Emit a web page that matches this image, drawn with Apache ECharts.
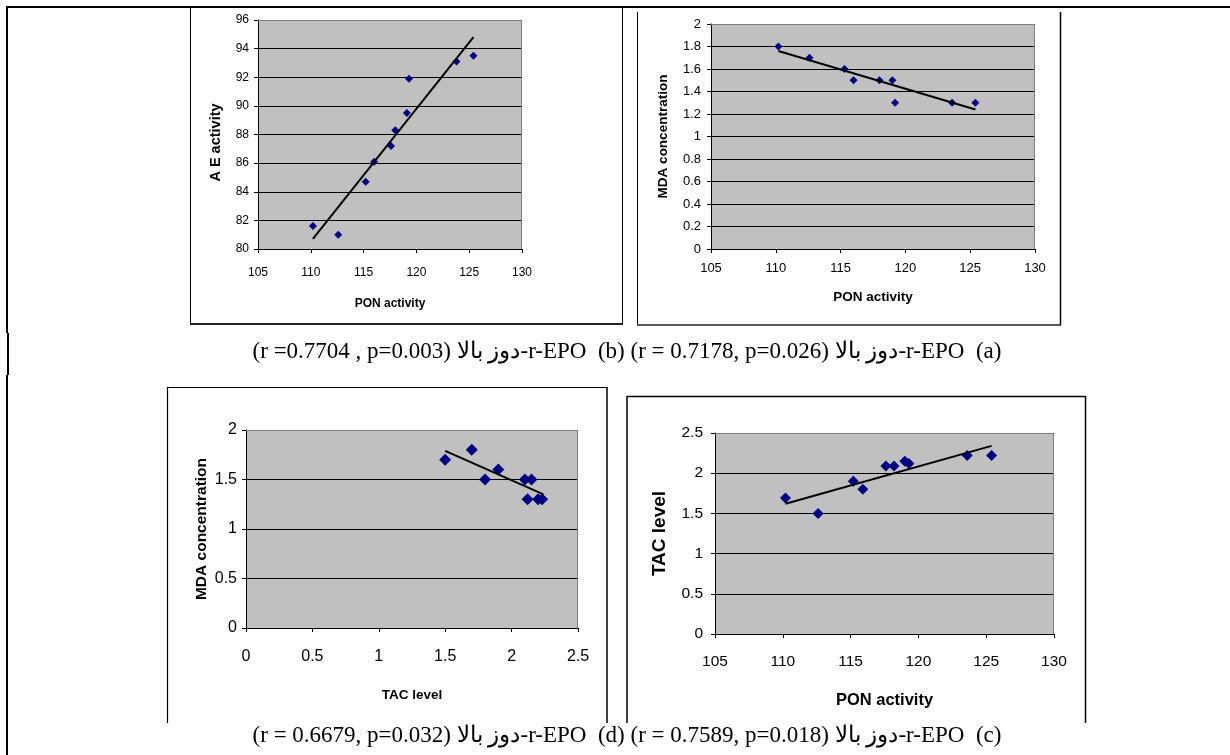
<!DOCTYPE html>
<html><head><meta charset="utf-8">
<script src="https://cdn.jsdelivr.net/npm/echarts@6/dist/echarts.min.js"></script>
<style>html,body{margin:0;padding:0;background:#fff}#c{width:1230px;height:755px}</style>
</head><body><div id="c"></div>
<script>
// ---- data ----
// chart (b): AE activity vs PON activity
const ponB = [110.2, 112.6, 115.2, 116.0, 117.6, 118.0, 119.1, 119.3, 123.8, 125.4];
const aeB  = [81.6, 81.0, 84.7, 86.1, 87.2, 88.3, 89.5, 91.9, 93.1, 93.5];
const trendBx = [110.2, 125.4];
const trendBy = [80.7, 94.8];
// chart (a): MDA concentration vs PON activity
const ponA = [110.2, 112.6, 115.3, 116.0, 118.0, 119.0, 119.2, 123.6, 125.4];
const mdaA = [1.8, 1.7, 1.6, 1.5, 1.5, 1.5, 1.3, 1.3, 1.3];
const trendAx = [110.2, 125.4];
const trendAy = [1.76, 1.24];
// chart (d): MDA concentration vs TAC level
const tacD = [1.5, 1.7, 1.8, 1.9, 2.1, 2.15, 2.12, 2.2, 2.23];
const mdaD = [1.7, 1.8, 1.5, 1.6, 1.5, 1.5, 1.3, 1.3, 1.3];
const trendDx = [1.5, 2.24];
const trendDy = [1.79, 1.35];
// chart (c): TAC level vs PON activity
const ponC = [110.2, 112.6, 115.2, 115.9, 117.6, 118.2, 119.0, 119.3, 123.6, 125.4];
const tacC = [1.69, 1.5, 1.9, 1.8, 2.09, 2.09, 2.15, 2.12, 2.22, 2.22];
const trendCx = [110.2, 125.4];
const trendCy = [1.62, 2.34];

const caption1 = "(r =0.7704 , p=0.003) دوز بالا-r-EPO  (b) (r = 0.7178, p=0.026) دوز بالا-r-EPO  (a)";
const caption2 = "(r = 0.6679, p=0.032) دوز بالا-r-EPO  (d) (r = 0.7589, p=0.018) دوز بالا-r-EPO  (c)";

const zip = (a, b) => a.map((v, i) => [v, b[i]]);

// ---- layout ----
const grids = [
  {left: 258, top: 20, width: 264, height: 229},
  {left: 711, top: 24, width: 324, height: 225},
  {left: 246, top: 430, width: 332, height: 198},
  {left: 715, top: 433, width: 339, height: 201}
];
const SANS = '"Liberation Sans", Arial, sans-serif';
const NARROW = '"Liberation Sans Narrow", "Arial Narrow", "Liberation Sans", sans-serif';

function xAx(i, min, max, interval, name, lblSize, lblMargin, nameSize, nameGap, fam) {
  return {
    type: 'value', gridIndex: i, min, max, interval,
    name, nameLocation: 'middle', nameGap,
    nameTextStyle: {fontFamily: SANS, fontWeight: 'bold', fontSize: nameSize, color: '#000'},
    axisLine: {show: true, onZero: false, lineStyle: {color: '#000', width: 1}},
    axisTick: {show: true, inside: false, length: 4, lineStyle: {color: '#000'}},
    axisLabel: {fontFamily: fam || SANS, fontSize: lblSize, color: '#000', margin: lblMargin},
    splitLine: {show: false}
  };
}
function yAx(i, min, max, interval, name, lblSize, lblMargin, nameSize, nameGap, fam, namePad) {
  return {
    type: 'value', gridIndex: i, min, max, interval,
    name, nameLocation: 'middle', nameGap,
    nameTextStyle: {fontFamily: SANS, fontWeight: 'bold', fontSize: nameSize, color: '#000', padding: namePad || 0},
    axisLine: {show: true, onZero: false, lineStyle: {color: '#000', width: 1}},
    axisTick: {show: true, inside: false, length: 4, lineStyle: {color: '#000'}},
    axisLabel: {fontFamily: fam || SANS, fontSize: lblSize, color: '#000', margin: lblMargin},
    splitLine: {show: true, lineStyle: {color: '#000', width: 1}}
  };
}

function scatter(i, data, size) {
  return {type: 'scatter', xAxisIndex: i, yAxisIndex: i, data, symbol: 'diamond',
    symbolSize: size, itemStyle: {color: '#000080', opacity: 1}, z: 3, silent: true};
}
function trend(i, xs, ys) {
  return {type: 'line', xAxisIndex: i, yAxisIndex: i, data: zip(xs, ys), symbol: 'none',
    lineStyle: {color: '#000', width: 2}, z: 4, silent: true, animation: false};
}

// plot-area borders (gray top/right edges) & page frame lines
const frame = [];
grids.forEach(g => {
  frame.push({type: 'polyline', silent: true, z: 10,
    shape: {points: [[g.left, g.top + 0.5], [g.left + g.width - 0.5, g.top + 0.5], [g.left + g.width - 0.5, g.top + g.height]]},
    style: {stroke: '#808080', fill: null, lineWidth: 1}});
});
function ln(x1, y1, x2, y2, w, c) {
  return {type: 'line', silent: true, z: 10, shape: {x1, y1, x2, y2}, style: {stroke: c || '#000', lineWidth: w}};
}
// outer page/table lines
frame.push(ln(6, 7, 1230, 7, 2));
frame.push(ln(7, 7, 7, 333, 2));
frame.push(ln(8, 333, 8, 375, 2));
frame.push(ln(7, 375, 7, 755, 2));
// chart boxes
frame.push(ln(190.5, 8, 190.5, 324, 1));
frame.push(ln(622.5, 8, 622.5, 324, 1));
frame.push(ln(190, 324, 623, 324, 2, '#222'));
frame.push(ln(637.5, 12, 637.5, 325, 1));
frame.push(ln(1060.5, 12, 1060.5, 325, 1.5));
frame.push(ln(637, 325, 1061, 325, 1.5, '#222'));
frame.push(ln(167.5, 387.5, 607, 387.5, 1.2));
frame.push(ln(167.5, 387, 167.5, 723, 1.2));
frame.push(ln(607, 387, 607, 723, 1.5));
frame.push(ln(627, 396.5, 1085.5, 396.5, 1.5));
frame.push(ln(627, 396, 627, 723, 1.5));
frame.push(ln(1085.5, 396, 1085.5, 723, 1.5));
// captions
const CAPFONT = '23px "Liberation Serif", "Times New Roman", serif';
frame.push({type: 'text', silent: true, z: 10, x: 627, y: 352,
  style: {text: caption1, font: CAPFONT, fill: '#000', align: 'center', verticalAlign: 'middle'}});
frame.push({type: 'text', silent: true, z: 10, x: 627, y: 736,
  style: {text: caption2, font: CAPFONT, fill: '#000', align: 'center', verticalAlign: 'middle'}});

const option = {
  animation: false,
  backgroundColor: '#fff',
  grid: grids.map(g => Object.assign({show: true, backgroundColor: '#C0C0C0', borderWidth: 0, containLabel: false}, g)),
  xAxis: [
    xAx(0, 105, 130, 5, 'PON activity', 12, 18, 12, 49),
    xAx(1, 105, 130, 5, 'PON activity', 13, 13, 13.5, 41),
    xAx(2, 0, 2.5, 0.5, 'TAC level', 16, 21, 13.5, 60, NARROW),
    xAx(3, 105, 130, 5, 'PON activity', 15.5, 20, 16.5, 58)
  ],
  yAxis: [
    yAx(0, 80, 96, 2, 'A E activity', 12, 9, 14.5, 35, null, [0, 16, 0, 0]),
    yAx(1, 0, 2, 0.2, 'MDA concentration', 13, 10, 13.5, 41),
    yAx(2, 0, 2, 0.5, 'MDA concentration', 16, 9, 15.5, 36, NARROW),
    yAx(3, 0, 2.5, 0.5, 'TAC level', 15.5, 12, 19, 46)
  ],
  series: [
    scatter(0, zip(ponB, aeB), 8), trend(0, trendBx, trendBy),
    scatter(1, zip(ponA, mdaA), 8), trend(1, trendAx, trendAy),
    scatter(2, zip(tacD, mdaD), 12), trend(2, trendDx, trendDy),
    scatter(3, zip(ponC, tacC), 11), trend(3, trendCx, trendCy)
  ],
  graphic: frame
};
const chart = echarts.init(document.getElementById('c'), null, {renderer: 'canvas'});
chart.setOption(option);
</script>
</body></html>
